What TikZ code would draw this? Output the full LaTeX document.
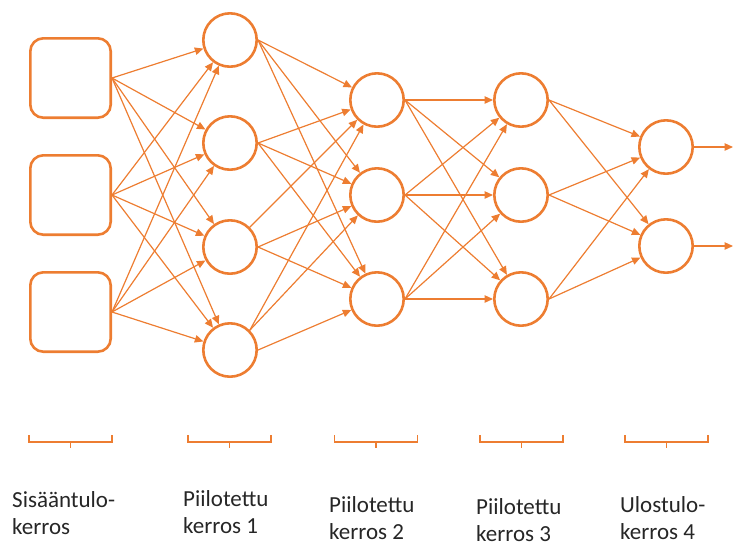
\documentclass[tikz,border=0pt]{standalone}
\usepackage{fontspec}
\setmainfont{Carlito}
\usetikzlibrary{arrows.meta}
\definecolor{accent}{HTML}{ED7D31}
\definecolor{labeltext}{HTML}{262626}
\begin{document}
\begin{tikzpicture}[x=1pt,y=-1pt,
  unit/.style={circle,draw=accent,line width=2.6pt,minimum size=53.4pt,inner sep=0pt,fill=white},
  inbox/.style={rectangle,rounded corners=13pt,draw=accent,line width=2.6pt,
    minimum width=80.4pt,minimum height=79.4pt,inner sep=0pt},
  link/.style={draw=accent,line width=1.2pt,-{Triangle[length=8.5pt,width=7.5pt]}},
  brace/.style={draw=accent,line width=1.8pt},
  caption/.style={anchor=base west,align=left,font=\fontsize{23}{27}\selectfont,
    text=labeltext,inner sep=0pt}]
\useasboundingbox (0,0) rectangle (733,542);

% input layer
\node[inbox] (in1) at (70.5,78) {};
\node[inbox] (in2) at (70.5,195) {};
\node[inbox] (in3) at (70.5,312) {};
% hidden layer 1
\node[unit] (a1) at (230,40) {};
\node[unit] (a2) at (230,143) {};
\node[unit] (a3) at (230,247) {};
\node[unit] (a4) at (230,350) {};
% hidden layer 2
\node[unit] (b1) at (377,100) {};
\node[unit] (b2) at (377,195) {};
\node[unit] (b3) at (377,299) {};
% hidden layer 3
\node[unit] (c1) at (521,100) {};
\node[unit] (c2) at (521,195) {};
\node[unit] (c3) at (521,299) {};
% output layer
\node[unit] (d1) at (666,147) {};
\node[unit] (d2) at (666,246) {};
\coordinate (o1) at (733,147);
\coordinate (o2) at (733,246);

% connections
\foreach \i in {1,2,3}
  \foreach \j in {1,2,3,4}
    \draw[link] (in\i.east) -- (a\j);
\foreach \i/\j/\s in {1/1/east,1/2/east,1/3/east,
                      2/1/east,2/2/east,2/3/east,
                      3/1/north east,3/2/east,3/3/east,
                      4/1/north east,4/2/north east,4/3/east}
  \draw[link] (a\i.\s) -- (b\j);
\foreach \i in {1,2,3}
  \foreach \j in {1,2,3}
    \draw[link] (b\i.east) -- (c\j);
\foreach \i in {1,2,3}
  \foreach \j in {1,2}
    \draw[link] (c\i.east) -- (d\j);
\draw[link] (d1.east) -- (o1);
\draw[link] (d2.east) -- (o2);

% layer brackets
\foreach \c in {70.5,229.5,376,521.5,666.5}
  \draw[brace] ({\c-41.5},435) -- ({\c-41.5},442) -- ({\c+41.5},442) -- ({\c+41.5},435)
               (\c,442) -- (\c,448);

% layer captions (anchored on the baseline of the last line)
\node[caption] (t0) at (12,534) {Sisääntulo-\\kerros};
\node[caption] (t1) at (183,533) {Piilotettu\\kerros 1};
\node[caption] (t2) at (329,539) {Piilotettu\\kerros 2};
\node[caption] (t3) at (476,541) {Piilotettu\\kerros 3};
\node[caption] (t4) at (620,539) {Ulostulo-\\kerros 4};
\end{tikzpicture}
\end{document}
